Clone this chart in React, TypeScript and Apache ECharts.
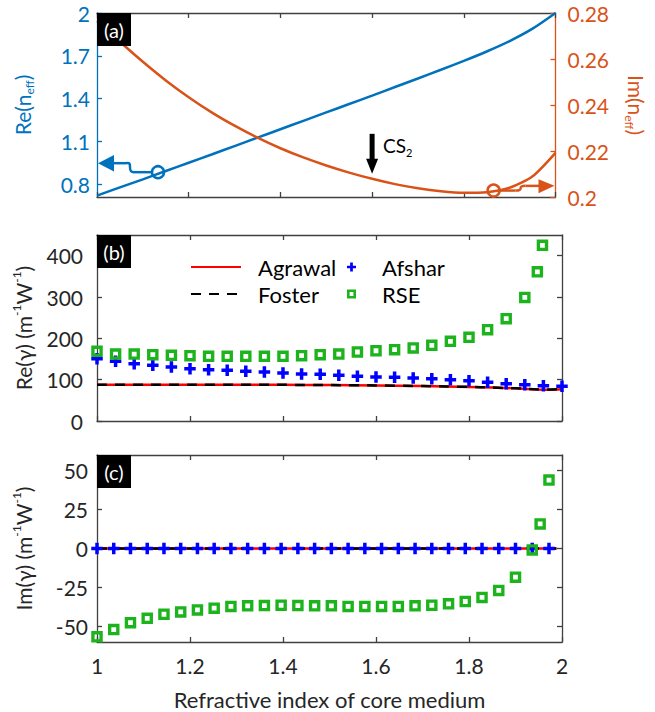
import React, { useEffect, useRef } from 'react';
import * as echarts from 'echarts';

const FONT = 'Lato, "Open Sans", sans-serif';
const BLUE = '#0072BD';
const ORANGE = '#D95319';
const AXIS = '#404040';
const TEXT = '#262626';
const GREEN = '#1DB31D';
const MARK_BLUE = '#0000FF';
const RED = '#FF0000';

// (a) effective index of the mode versus core index
const nCoreA = [1.0, 1.05, 1.1, 1.15, 1.2, 1.25, 1.3, 1.35, 1.4, 1.45, 1.5, 1.55, 1.6, 1.65, 1.7, 1.75, 1.8, 1.85, 1.9, 1.95, 2.0];
const reNeff = [0.72, 0.777, 0.834, 0.892, 0.95, 1.008, 1.067, 1.126, 1.185, 1.244, 1.303, 1.362, 1.421, 1.481, 1.541, 1.602, 1.664, 1.73, 1.803, 1.89, 2.0];
const imNeff = [0.2765, 0.2675, 0.2588, 0.2507, 0.2434, 0.2368, 0.231, 0.2258, 0.2212, 0.2172, 0.2137, 0.2106, 0.2079, 0.2056, 0.2038, 0.2025, 0.2018, 0.2021, 0.204, 0.209, 0.2192];

// (b) real part of the nonlinear parameter
const nCoreB = [1.0, 1.04, 1.08, 1.12, 1.16, 1.2, 1.24, 1.28, 1.32, 1.36, 1.4, 1.44, 1.48, 1.52, 1.56, 1.6, 1.64, 1.68, 1.72, 1.76, 1.8, 1.84, 1.88, 1.92, 1.96, 2.0];
const afsharRe = [150.8, 144.3, 138.7, 134.6, 130.8, 126.6, 124.2, 122.5, 120.1, 118.6, 116.2, 113.8, 113, 110.4, 108, 106.5, 105.6, 104.1, 102.4, 100, 97.6, 93.5, 90.3, 87.9, 85.5, 83.8];
const nCoreRseB = [1.0, 1.04, 1.08, 1.12, 1.16, 1.2, 1.24, 1.28, 1.32, 1.36, 1.4, 1.44, 1.48, 1.52, 1.56, 1.6, 1.64, 1.68, 1.72, 1.76, 1.8, 1.84, 1.88, 1.92, 1.947, 1.958];
const rseRe = [168.5, 162, 162, 160.5, 159, 158, 156.5, 156.5, 156.5, 156.5, 156.5, 158, 160.5, 162, 167, 170, 172.6, 176.8, 183, 192.7, 202.4, 221, 247.5, 299, 361, 425];
const nCoreLineB = [1.0, 1.1, 1.2, 1.3, 1.4, 1.5, 1.6, 1.7, 1.75, 1.8, 1.85, 1.9, 1.95, 1.97, 2.0];
const agrawalRe = [88, 88, 88, 88, 87.5, 87, 86, 84.5, 83.5, 82.5, 81, 79, 76, 75.5, 77];
const fosterRe = [88, 88, 88, 88, 87.5, 87, 86, 84.5, 83.5, 82.5, 81, 79, 76.5, 76, 77];

// (c) imaginary part of the nonlinear parameter
const nCoreC = [1.0, 1.036, 1.072, 1.108, 1.144, 1.18, 1.216, 1.252, 1.288, 1.324, 1.36, 1.396, 1.432, 1.468, 1.504, 1.54, 1.576, 1.612, 1.648, 1.684, 1.72, 1.756, 1.792, 1.828, 1.864, 1.9, 1.936, 1.972];
const afsharIm = [0, 0, 0, 0, 0, 0, 0, 0, 0, 0, 0, 0, 0, 0, 0, 0, 0, 0, 0, 0, 0, 0, 0, 0, 0, 0, 0, 0];
const nCoreRseC = [1.0, 1.036, 1.072, 1.108, 1.144, 1.18, 1.216, 1.252, 1.288, 1.324, 1.36, 1.396, 1.432, 1.468, 1.504, 1.54, 1.576, 1.612, 1.648, 1.684, 1.72, 1.756, 1.792, 1.828, 1.864, 1.9, 1.936, 1.953, 1.972];
const rseIm = [-56.7, -52.0, -47.6, -44.8, -42.2, -40.7, -39.4, -38.3, -37.2, -36.8, -36.6, -36.4, -36.6, -36.8, -36.8, -37.2, -37.2, -37.2, -37.2, -36.8, -36.4, -35.5, -34.0, -31.4, -26.9, -18.4, -0.9, 15.8, 43.9];
const nCoreLineC = [1.0, 1.988];
const agrawalIm = [0, 0];
const fosterIm = [0, 0];

// tick values
const xTicks = [1, 1.2, 1.4, 1.6, 1.8, 2];
const reNeffTicks = [0.8, 1.1, 1.4, 1.7, 2];
const imNeffTicks = [0.2, 0.22, 0.24, 0.26, 0.28];
const reGammaTicks = [0, 100, 200, 300, 400];
const imGammaTicks = [-50, -25, 0, 25, 50];

const PLUS = 'path://M4,0H7.5V4H11.5V7.5H7.5V11.5H4V7.5H0V4H4Z';
const RING = 'path://M0,0H11V11H0ZM3.2,3.2V7.8H7.8V3.2Z';

const pts = (xs: number[], ys: number[]) => xs.map((x, i) => [x, ys[i]]);

const nameRich = (color: string) => ({
  m: { fontSize: 21, color, fontFamily: FONT, lineHeight: 26 },
  s: { fontSize: 12, color, fontFamily: FONT, lineHeight: 12, verticalAlign: 'bottom' },
  p: { fontSize: 12, color, fontFamily: FONT, lineHeight: 12, verticalAlign: 'top' },
});

const xAxisFor = (gridIndex: number, position: string, showLabels: boolean, name?: string) => ({
  type: 'value',
  gridIndex,
  position,
  min: 1,
  max: 2,
  axisLine: { show: true, onZero: false, lineStyle: { color: AXIS, width: 1.3 } },
  axisTick: { show: true, inside: true, length: 5, customValues: xTicks, lineStyle: { color: AXIS, width: 1.3 } },
  axisLabel: { show: showLabels, customValues: xTicks, margin: 13, fontSize: 21, color: TEXT, fontFamily: FONT },
  splitLine: { show: false },
  name,
  nameLocation: 'middle',
  nameGap: 46,
  nameTextStyle: { fontSize: 22, color: TEXT, fontFamily: FONT },
});

const yAxisFor = (o: {
  gridIndex: number; position: string; min: number; max: number; ticks: number[];
  color: string; labelColor?: string; showLabels: boolean; margin?: number;
  name?: string; nameGap?: number; nameRotate?: number;
}) => ({
  type: 'value',
  gridIndex: o.gridIndex,
  position: o.position,
  min: o.min,
  max: o.max,
  axisLine: { show: true, onZero: false, lineStyle: { color: o.color, width: 1.3 } },
  axisTick: { show: true, inside: true, length: 5, customValues: o.ticks, lineStyle: { color: o.color, width: 1.3 } },
  axisLabel: {
    show: o.showLabels, customValues: o.ticks, margin: o.margin ?? 10, fontSize: 21,
    color: o.labelColor ?? TEXT, fontFamily: FONT,
  },
  splitLine: { show: false },
  name: o.name,
  nameLocation: 'middle',
  nameGap: o.nameGap ?? 62,
  nameRotate: o.nameRotate ?? 90,
  nameTextStyle: { rich: nameRich(o.labelColor ?? TEXT) },
});

export default function App() {
  const ref = useRef<HTMLDivElement>(null);

  useEffect(() => {
    if (!ref.current) return;
    const chart = echarts.init(ref.current, undefined, { renderer: 'svg' });

    const legendText = { fontSize: 22, color: '#000', fontFamily: FONT, lineHeight: 22 };

    const option: any = {
      animation: false,
      backgroundColor: '#ffffff',
      textStyle: { fontFamily: FONT },
      grid: [
        { left: 97, top: 13, width: 465, height: 184 },
        { left: 97, top: 235, width: 465, height: 186 },
        { left: 97, top: 455, width: 465, height: 187 },
      ],
      xAxis: [
        xAxisFor(0, 'bottom', false),
        xAxisFor(0, 'top', false),
        xAxisFor(1, 'bottom', false),
        xAxisFor(1, 'top', false),
        xAxisFor(2, 'bottom', true, 'Refractive index of core medium'),
        xAxisFor(2, 'top', false),
      ],
      yAxis: [
        yAxisFor({ gridIndex: 0, position: 'left', min: 0.71, max: 2, ticks: reNeffTicks, color: BLUE, labelColor: BLUE, showLabels: true, margin: 7, name: '{m|Re(n}{s|eff}{m|)}', nameGap: 62 }),
        yAxisFor({ gridIndex: 0, position: 'right', min: 0.2, max: 0.28, ticks: imNeffTicks, color: ORANGE, labelColor: ORANGE, showLabels: true, margin: 12, name: '{m|Im(n}{s|eff}{m|)}', nameGap: 68, nameRotate: -90 }),
        yAxisFor({ gridIndex: 1, position: 'left', min: 0, max: 450, ticks: reGammaTicks, color: AXIS, showLabels: true, margin: 14, name: '{m|Re(γ) (m}{p|-1}{m|W}{p|-1}{m|)}', nameGap: 61 }),
        yAxisFor({ gridIndex: 1, position: 'right', min: 0, max: 450, ticks: reGammaTicks, color: AXIS, showLabels: false }),
        yAxisFor({ gridIndex: 2, position: 'left', min: -60, max: 60, ticks: imGammaTicks, color: AXIS, showLabels: true, margin: 9, name: '{m|Im(γ) (m}{p|-1}{m|W}{p|-1}{m|)}', nameGap: 61 }),
        yAxisFor({ gridIndex: 2, position: 'right', min: -60, max: 60, ticks: imGammaTicks, color: AXIS, showLabels: false }),
      ],
      legend: [
        {
          data: ['Agrawal', 'Foster'],
          orient: 'vertical',
          left: 190,
          top: 256,
          padding: 0,
          itemWidth: 50,
          itemHeight: 1,
          itemGap: 5,
          selectedMode: false,
          textStyle: { ...legendText, padding: [0, 0, 0, 12] },
        },
        {
          data: [
            { name: 'Afshar', icon: PLUS, itemStyle: { color: MARK_BLUE } },
            { name: 'RSE', icon: RING, itemStyle: { color: GREEN } },
          ],
          orient: 'vertical',
          left: 347,
          top: 256,
          padding: 0,
          itemWidth: 9,
          itemHeight: 9,
          itemGap: 5,
          selectedMode: false,
          textStyle: { ...legendText, padding: [0, 0, 0, 21] },
        },
      ],
      series: [
        {
          name: 'Re(neff)', type: 'line', xAxisIndex: 0, yAxisIndex: 0,
          data: pts(nCoreA, reNeff), symbol: 'none', smooth: 0.25,
          lineStyle: { color: BLUE, width: 2.5 }, itemStyle: { color: BLUE },
        },
        {
          name: 'Im(neff)', type: 'line', xAxisIndex: 0, yAxisIndex: 1,
          data: pts(nCoreA, imNeff), symbol: 'none', smooth: 0.25,
          lineStyle: { color: ORANGE, width: 2.5 }, itemStyle: { color: ORANGE },
        },
        {
          name: 'Agrawal', type: 'line', xAxisIndex: 2, yAxisIndex: 2,
          data: pts(nCoreLineB, agrawalRe), symbol: 'none', smooth: 0.25,
          lineStyle: { color: RED, width: 2.5 }, itemStyle: { color: RED }, z: 2,
        },
        {
          name: 'Foster', type: 'line', xAxisIndex: 2, yAxisIndex: 2,
          data: pts(nCoreLineB, fosterRe), symbol: 'none', smooth: 0.25,
          lineStyle: { color: '#000', width: 2.5, type: [10, 8] }, itemStyle: { color: '#000' }, z: 3,
        },
        {
          name: 'Afshar', type: 'scatter', xAxisIndex: 2, yAxisIndex: 2,
          data: pts(nCoreB, afsharRe), symbol: PLUS, symbolSize: 11.5, clip: false,
          itemStyle: { color: MARK_BLUE, opacity: 1 }, z: 4,
        },
        {
          name: 'RSE', type: 'scatter', xAxisIndex: 2, yAxisIndex: 2,
          data: pts(nCoreRseB, rseRe), symbol: RING, symbolSize: 11.5, clip: false,
          itemStyle: { color: GREEN, opacity: 1 }, z: 5,
        },
        {
          name: 'Agrawal', type: 'line', xAxisIndex: 4, yAxisIndex: 4,
          data: pts(nCoreLineC, agrawalIm), symbol: 'none',
          lineStyle: { color: RED, width: 2.5 }, itemStyle: { color: RED }, z: 2,
        },
        {
          name: 'Foster', type: 'line', xAxisIndex: 4, yAxisIndex: 4,
          data: pts(nCoreLineC, fosterIm), symbol: 'none',
          lineStyle: { color: '#000', width: 2.5, type: [10, 8] }, itemStyle: { color: '#000' }, z: 3,
        },
        {
          name: 'Afshar', type: 'scatter', xAxisIndex: 4, yAxisIndex: 4,
          data: pts(nCoreC, afsharIm), symbol: PLUS, symbolSize: 11.5, clip: false,
          itemStyle: { color: MARK_BLUE, opacity: 1 }, z: 4,
        },
        {
          name: 'RSE', type: 'scatter', xAxisIndex: 4, yAxisIndex: 4,
          data: pts(nCoreRseC, rseIm), symbol: RING, symbolSize: 11.5, clip: false,
          itemStyle: { color: GREEN, opacity: 1 }, z: 5,
        },
      ],
    };

    chart.setOption(option);

    // annotations placed from data coordinates of panel (a)
    const toPx = (seriesIndex: number, v: number[]) => chart.convertToPixel({ seriesIndex }, v) as number[];
    const leftX = toPx(0, [1, 1])[0];
    const rightX = toPx(1, [2, 0.2])[0];
    const [bx, by] = toPx(0, [1.133, 0.884]);
    const [ox, oy] = toPx(1, [1.865, 0.2028]);
    const [cx, cy] = toPx(1, [1.6, 0.2079]);

    const bsy = by - 9;
    const osy = oy - 4.7;
    const tip = cy - 5;

    const graphics: any[] = [];

    // panel tags
    [['(a)', 13], ['(b)', 235], ['(c)', 455]].forEach(([label, top]) => {
      graphics.push({ type: 'rect', shape: { x: 97, y: top as number, width: 34, height: 33 }, style: { fill: '#000' }, z: 50 });
      graphics.push({
        type: 'text', x: 114, y: (top as number) + 16.5, z: 51,
        style: { text: label as string, fill: '#fff', fontSize: 20, fontFamily: FONT, align: 'center', verticalAlign: 'middle' },
      });
    });

    // left-pointing marker for the real part
    graphics.push(
      { type: 'polygon', shape: { points: [[leftX + 1, bsy], [leftX + 17, bsy - 8.3], [leftX + 17, bsy + 8.4]] }, style: { fill: BLUE }, z: 40 },
      { type: 'polyline', shape: { points: [[leftX + 16, bsy], [leftX + 29, bsy]] }, style: { stroke: BLUE, lineWidth: 2.5, fill: 'none' }, z: 40 },
      {
        type: 'bezierCurve',
        shape: { x1: leftX + 29, y1: bsy, cpx1: leftX + 37, cpy1: bsy - 2, cpx2: leftX + 29, cpy2: by, x2: leftX + 37, y2: by },
        style: { stroke: BLUE, lineWidth: 2.5, fill: 'none' }, z: 40,
      },
      { type: 'polyline', shape: { points: [[leftX + 37, by], [bx - 6, by]] }, style: { stroke: BLUE, lineWidth: 2.5, fill: 'none' }, z: 40 },
      { type: 'circle', shape: { cx: bx, cy: by, r: 6 }, style: { stroke: BLUE, lineWidth: 2.5, fill: 'none' }, z: 40 },
    );

    // right-pointing marker for the imaginary part
    graphics.push(
      { type: 'circle', shape: { cx: ox, cy: oy, r: 6 }, style: { stroke: ORANGE, lineWidth: 2.5, fill: 'none' }, z: 40 },
      { type: 'polyline', shape: { points: [[ox + 6, oy], [ox + 22, oy]] }, style: { stroke: ORANGE, lineWidth: 2.5, fill: 'none' }, z: 40 },
      {
        type: 'bezierCurve',
        shape: { x1: ox + 22, y1: oy, cpx1: ox + 32, cpy1: oy, cpx2: ox + 22, cpy2: osy, x2: ox + 32, y2: osy },
        style: { stroke: ORANGE, lineWidth: 2.5, fill: 'none' }, z: 40,
      },
      { type: 'polyline', shape: { points: [[ox + 32, osy], [rightX - 16, osy]] }, style: { stroke: ORANGE, lineWidth: 2.5, fill: 'none' }, z: 40 },
      { type: 'polygon', shape: { points: [[rightX - 17, osy - 6.6], [rightX - 17, osy + 7.4], [rightX - 1, osy]] }, style: { fill: ORANGE }, z: 40 },
    );

    // CS2 marker
    graphics.push(
      { type: 'rect', shape: { x: cx - 2.5, y: tip - 40, width: 5, height: 26 }, style: { fill: '#000' }, z: 40 },
      { type: 'polygon', shape: { points: [[cx - 6, tip - 15], [cx + 6, tip - 15], [cx, tip]] }, style: { fill: '#000' }, z: 40 },
      {
        type: 'text', x: cx + 11, y: tip - 28, z: 40,
        style: {
          text: '{a|CS}{s|2}',
          verticalAlign: 'middle',
          rich: {
            a: { fontSize: 19, fontFamily: FONT, fill: '#000', lineHeight: 24 },
            s: { fontSize: 11, fontFamily: FONT, fill: '#000', lineHeight: 10, verticalAlign: 'bottom' },
          },
        },
      },
    );

    chart.setOption({ graphic: graphics });

    return () => chart.dispose();
  }, []);

  return (
    <div
      ref={ref}
      style={{ position: 'fixed', left: 0, top: 0, width: 655, height: 712, background: '#fff' }}
    />
  );
}
